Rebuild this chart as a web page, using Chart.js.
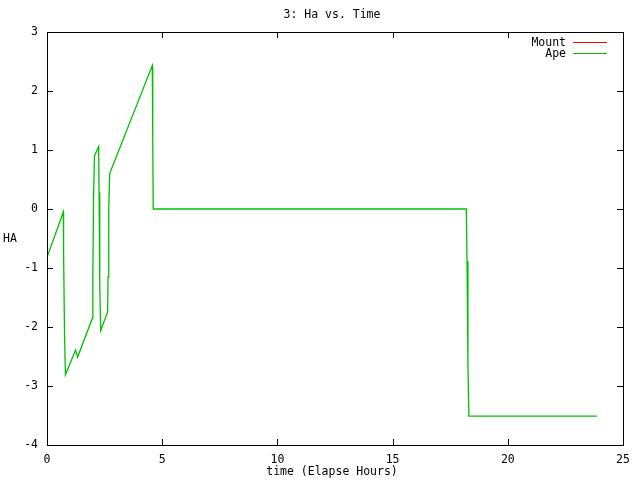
<!DOCTYPE html>
<html>
	<head>
		<meta charset="utf-8">
		<title>3: Ha vs. Time</title>
		<style type="text/css">
			body{margin: 0;background: #fff;}
			canvas{display: block;}
		</style>
	</head>
	<body>
		<canvas id="chart-ha" width="640" height="480"></canvas>
		<script src="https://cdn.jsdelivr.net/npm/chart.js@4.4.0/dist/chart.umd.min.js"></script>
		<script type="text/javascript">
			// data
			let ape_hours=[0, 0.71, 0.72, 0.76, 0.80, 1.24, 1.33, 1.97, 1.99, 2.02, 2.06, 2.24, 2.26, 2.29, 2.33, 2.63, 2.65, 2.68, 2.72, 4.57, 4.59, 4.61, 18.20, 18.23, 18.27, 18.31, 23.87];
			let ape_ha=[-0.82, -0.05, -0.74, -2.12, -2.81, -2.39, -2.51, -1.85, -1.15, 0.19, 0.90, 1.06, 0.28, -1.29, -2.06, -1.75, -1.15, 0.00, 0.60, 2.43, 1.21, 0.00, 0.00, -0.88, -2.63, -3.51, -3.51];
			let mount_hours=[];
			let mount_ha=[];
			let series_names=['Mount','Ape'];
			let series_colors=['#ff0000','#00c000'];
			let x_ticks=[0,5,10,15,20,25];
			let y_ticks=[-4,-3,-2,-1,0,1,2,3];

			const mono='"DejaVu Sans Mono", monospace';

			function toPoints(xs,ys){
				let pts=[];
				for(let i=0;i<xs.length;i++){
					pts.push({x:xs[i],y:ys[i]});
				}
				return pts;
			}

			// gnuplot look: border, inward ticks, title, labels, key
			const gnuplotFrame={
				id: 'gnuplotFrame',
				afterDraw(chart){
					let ctx=chart.ctx;
					let a=chart.chartArea;
					let xs=chart.scales.x, ys=chart.scales.y;
					ctx.save();
					ctx.strokeStyle='#000';
					ctx.lineWidth=1;
					ctx.strokeRect(Math.round(a.left)+0.5,Math.round(a.top)+0.5,Math.round(a.right-a.left),Math.round(a.bottom-a.top));
					ctx.beginPath();
					for(let v of x_ticks){
						let px=Math.round(xs.getPixelForValue(v))+0.5;
						ctx.moveTo(px,a.bottom);ctx.lineTo(px,a.bottom-6);
						ctx.moveTo(px,a.top);ctx.lineTo(px,a.top+6);
					}
					for(let v of y_ticks){
						let py=Math.round(ys.getPixelForValue(v))+0.5;
						ctx.moveTo(a.left,py);ctx.lineTo(a.left+6,py);
						ctx.moveTo(a.right,py);ctx.lineTo(a.right-6,py);
					}
					ctx.stroke();

					ctx.fillStyle='#000';
					ctx.font='11.5px '+mono;
					ctx.textBaseline='middle';
					ctx.textAlign='center';
					ctx.fillText('3: Ha vs. Time',332,15);
					ctx.fillText('time (Elapse Hours)',332,472);
					ctx.fillText('HA',10,239);

					// key
					ctx.textAlign='right';
					for(let i=0;i<series_names.length;i++){
						let yy=43+i*11;
						ctx.fillStyle='#000';
						ctx.fillText(series_names[i],566,yy);
						ctx.strokeStyle=series_colors[i];
						ctx.beginPath();
						ctx.moveTo(573,yy-0.5);ctx.lineTo(607,yy-0.5);
						ctx.stroke();
					}
					ctx.restore();
				}
			};

			new Chart(document.getElementById('chart-ha'),{
				type: 'scatter',
				data: {
					datasets: [{
						label: series_names[1],
						data: toPoints(ape_hours,ape_ha),
						borderColor: series_colors[1],
						borderWidth: 1.3,
						showLine: true,
						pointRadius: 0,
						tension: 0
					},{
						label: series_names[0],
						data: toPoints(mount_hours,mount_ha),
						borderColor: series_colors[0],
						borderWidth: 1.3,
						showLine: true,
						pointRadius: 0
					}]
				},
				options: {
					responsive: false,
					animation: false,
					layout: {padding: {top: 32, right: 17, left: 0, bottom: 0}},
					plugins: {
						legend: {display: false},
						title: {display: false},
						tooltip: {enabled: false}
					},
					scales: {
						x: {
							type: 'linear',
							min: 0, max: 25,
							afterBuildTicks(scale){ scale.ticks=x_ticks.map(v=>({value:v})); },
							afterFit(scale){ scale.height=35; },
							grid: {display: false, drawTicks: false},
							border: {display: false},
							ticks: {color: '#000', font: {family: mono, size: 11.5}, padding: 8, maxRotation: 0}
						},
						y: {
							type: 'linear',
							min: -4, max: 3,
							afterBuildTicks(scale){ scale.ticks=y_ticks.map(v=>({value:v})); },
							afterFit(scale){ scale.width=47; },
							grid: {display: false, drawTicks: false},
							border: {display: false},
							ticks: {color: '#000', font: {family: mono, size: 11.5}, padding: 9}
						}
					}
				},
				plugins: [gnuplotFrame]
			});
		</script>
	</body>
</html>
